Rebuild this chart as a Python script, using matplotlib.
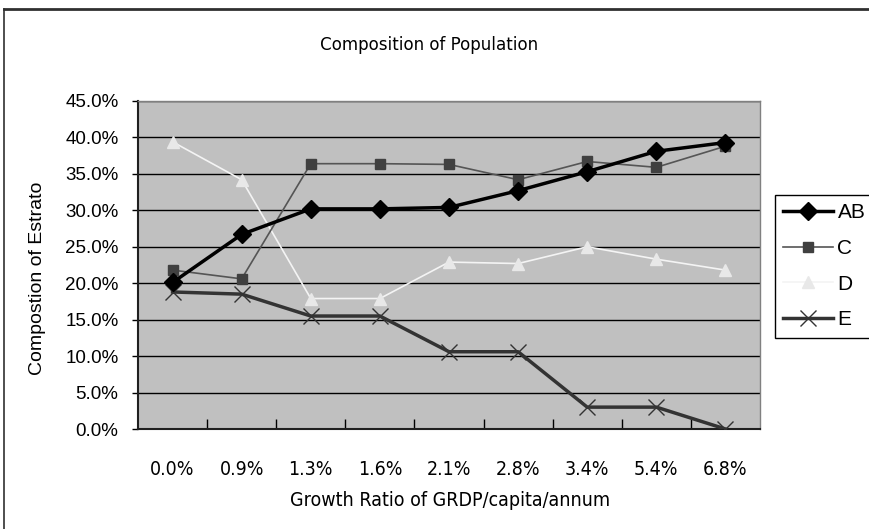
import numpy as np
import matplotlib.pyplot as plt
from matplotlib.lines import Line2D

growth = ['0.0%', '0.9%', '1.3%', '1.6%', '2.1%', '2.8%', '3.4%', '5.4%', '6.8%']
ab = [20.1, 26.7, 30.2, 30.2, 30.4, 32.7, 35.3, 38.1, 39.3]
c = [21.8, 20.6, 36.4, 36.4, 36.3, 34.2, 36.7, 35.9, 38.8]
d = [39.4, 34.2, 17.9, 17.9, 22.9, 22.7, 25.0, 23.3, 21.8]
e = [18.8, 18.5, 15.5, 15.5, 10.6, 10.6, 3.0, 3.0, 0.0]

plain = ['Liberation Sans', 'DejaVu Sans']
narrow = dict(family=['DejaVu Sans'], stretch='condensed')

fig = plt.figure(figsize=(8.7, 5.29), dpi=100)
W, H = 870, 529
ax = fig.add_axes([138 / W, 1 - 429 / H, (760 - 138) / W, (429 - 101) / H])
ax.set_facecolor('#c0c0c0')

x = np.arange(len(growth))
ax.plot(x, e, color='#333333', lw=2.5, marker='x', ms=12, mew=1.0, mec='#333333', label='E', zorder=3)
ax.plot(x, d, color='#f4f4f4', lw=1.2, marker='^', ms=8, mec='#e8e8e8', mfc='#e8e8e8', label='D', zorder=4)
ax.plot(x, c, color='#555555', lw=1.2, marker='s', ms=7, mec='#404040', mfc='#404040', label='C', zorder=5)
ax.plot(x, ab, color='black', lw=2.5, marker='D', ms=9, mec='black', mfc='black', label='AB', zorder=6)

ax.set_xlim(-0.5, len(growth) - 0.5)
ax.set_ylim(0, 45)
ax.set_yticks(np.arange(0, 46, 5))
ax.set_yticklabels(['%.1f%%' % v for v in np.arange(0, 46, 5)], family=plain, fontsize=13.5)
ax.yaxis.grid(True, color='black', lw=1)
ax.set_axisbelow(True)
ax.tick_params(axis='y', direction='out', length=4, width=1, pad=10)

# category labels centered, tick marks on the boundaries
ax.set_xticks(np.arange(0.5, len(growth) - 0.5), minor=False)
ax.set_xticklabels([])
ax.set_xticks(x, minor=True)
ax.set_xticklabels(growth, minor=True, fontsize=14, **narrow)
ax.tick_params(axis='x', which='major', direction='in', length=7, width=1)
ax.tick_params(axis='x', which='minor', length=0, pad=22)

for s in ['left', 'bottom']:
    ax.spines[s].set_color('#202020')
    ax.spines[s].set_linewidth(1.5)
for s in ['top', 'right']:
    ax.spines[s].set_color('#808080')
    ax.spines[s].set_linewidth(1)

fig.text(429 / W, 1 - 45 / H, 'Composition of Population', ha='center', va='center',
         fontsize=13.3, **narrow)
fig.text(450 / W, 1 - 500 / H, 'Growth Ratio of GRDP/capita/annum', ha='center', va='center',
         fontsize=14, **narrow)
fig.text(38 / W, 1 - 278 / H, 'Compostion of Estrato', ha='center', va='center',
         rotation=90, family=plain, fontsize=14)

handles, labels = ax.get_legend_handles_labels()
leg = fig.legend(handles[::-1], labels[::-1], loc='upper left',
                 bbox_to_anchor=(775 / W, 1 - 195 / H), frameon=True, fancybox=False,
                 edgecolor='black', facecolor='white', framealpha=1,
                 prop={'family': plain, 'size': 15}, handlelength=2.4,
                 handletextpad=0.2, labelspacing=0.8, borderpad=0.4, borderaxespad=0)
leg.get_frame().set_linewidth(1)

# chart border
fig.add_artist(Line2D([4 / W, 4 / W], [0, 1 - 9 / H], color='#303030', lw=1.2))
fig.add_artist(Line2D([4 / W, 1], [1 - 9 / H, 1 - 9 / H], color='#303030', lw=2))

fig.savefig('out.png', dpi=100)
